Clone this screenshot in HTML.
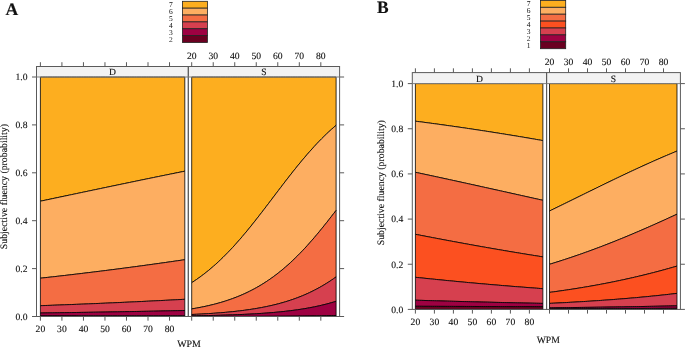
<!DOCTYPE html>
<html><head><meta charset="utf-8"><style>
html,body{margin:0;padding:0;background:#fff;}
svg{display:block; will-change:transform;}
text{font-family:"Liberation Serif", serif; fill:#111; stroke:#111; stroke-width:0.12px; text-rendering:geometricPrecision;}
</style></head><body>
<svg width="685" height="347" viewBox="0 0 685 347">
<rect width="685" height="347" fill="#fff"/>
<rect x="36.5" y="66.5" width="151.8" height="10.5" fill="#F2F2F2" stroke="none"/>
<rect x="188.3" y="66.5" width="151.3" height="10.5" fill="#F2F2F2" stroke="none"/>
<path d="M40.40,77.00 L42.81,77.00 L45.21,77.00 L47.62,77.00 L50.03,77.00 L52.43,77.00 L54.84,77.00 L57.25,77.00 L59.65,77.00 L62.06,77.00 L64.47,77.00 L66.87,77.00 L69.28,77.00 L71.69,77.00 L74.09,77.00 L76.50,77.00 L78.91,77.00 L81.31,77.00 L83.72,77.00 L86.13,77.00 L88.53,77.00 L90.94,77.00 L93.35,77.00 L95.75,77.00 L98.16,77.00 L100.57,77.00 L102.97,77.00 L105.38,77.00 L107.79,77.00 L110.19,77.00 L112.60,77.00 L115.01,77.00 L117.41,77.00 L119.82,77.00 L122.23,77.00 L124.63,77.00 L127.04,77.00 L129.45,77.00 L131.85,77.00 L134.26,77.00 L136.67,77.00 L139.07,77.00 L141.48,77.00 L143.89,77.00 L146.29,77.00 L148.70,77.00 L151.11,77.00 L153.51,77.00 L155.92,77.00 L158.33,77.00 L160.73,77.00 L163.14,77.00 L165.55,77.00 L167.95,77.00 L170.36,77.00 L172.77,77.00 L175.17,77.00 L177.58,77.00 L179.99,77.00 L182.39,77.00 L184.80,77.00 L184.80,171.20 L182.39,171.68 L179.99,172.17 L177.58,172.65 L175.17,173.14 L172.77,173.63 L170.36,174.12 L167.95,174.61 L165.55,175.10 L163.14,175.59 L160.73,176.08 L158.33,176.57 L155.92,177.06 L153.51,177.56 L151.11,178.05 L148.70,178.54 L146.29,179.04 L143.89,179.53 L141.48,180.03 L139.07,180.53 L136.67,181.03 L134.26,181.52 L131.85,182.02 L129.45,182.52 L127.04,183.02 L124.63,183.52 L122.23,184.02 L119.82,184.52 L117.41,185.03 L115.01,185.53 L112.60,186.03 L110.19,186.53 L107.79,187.04 L105.38,187.54 L102.97,188.04 L100.57,188.55 L98.16,189.05 L95.75,189.56 L93.35,190.06 L90.94,190.57 L88.53,191.07 L86.13,191.58 L83.72,192.08 L81.31,192.59 L78.91,193.10 L76.50,193.60 L74.09,194.11 L71.69,194.62 L69.28,195.12 L66.87,195.63 L64.47,196.14 L62.06,196.64 L59.65,197.15 L57.25,197.66 L54.84,198.16 L52.43,198.67 L50.03,199.18 L47.62,199.68 L45.21,200.19 L42.81,200.69 L40.40,201.20Z" fill="#FDAE1F" stroke="#000" stroke-width="0.8"/>
<path d="M40.40,201.20 L42.81,200.69 L45.21,200.19 L47.62,199.68 L50.03,199.18 L52.43,198.67 L54.84,198.16 L57.25,197.66 L59.65,197.15 L62.06,196.64 L64.47,196.14 L66.87,195.63 L69.28,195.12 L71.69,194.62 L74.09,194.11 L76.50,193.60 L78.91,193.10 L81.31,192.59 L83.72,192.08 L86.13,191.58 L88.53,191.07 L90.94,190.57 L93.35,190.06 L95.75,189.56 L98.16,189.05 L100.57,188.55 L102.97,188.04 L105.38,187.54 L107.79,187.04 L110.19,186.53 L112.60,186.03 L115.01,185.53 L117.41,185.03 L119.82,184.52 L122.23,184.02 L124.63,183.52 L127.04,183.02 L129.45,182.52 L131.85,182.02 L134.26,181.52 L136.67,181.03 L139.07,180.53 L141.48,180.03 L143.89,179.53 L146.29,179.04 L148.70,178.54 L151.11,178.05 L153.51,177.56 L155.92,177.06 L158.33,176.57 L160.73,176.08 L163.14,175.59 L165.55,175.10 L167.95,174.61 L170.36,174.12 L172.77,173.63 L175.17,173.14 L177.58,172.65 L179.99,172.17 L182.39,171.68 L184.80,171.20 L184.80,259.70 L182.39,260.05 L179.99,260.41 L177.58,260.76 L175.17,261.10 L172.77,261.45 L170.36,261.80 L167.95,262.14 L165.55,262.49 L163.14,262.83 L160.73,263.17 L158.33,263.50 L155.92,263.84 L153.51,264.18 L151.11,264.51 L148.70,264.84 L146.29,265.17 L143.89,265.50 L141.48,265.83 L139.07,266.15 L136.67,266.48 L134.26,266.80 L131.85,267.12 L129.45,267.44 L127.04,267.76 L124.63,268.08 L122.23,268.39 L119.82,268.71 L117.41,269.02 L115.01,269.33 L112.60,269.64 L110.19,269.94 L107.79,270.25 L105.38,270.55 L102.97,270.86 L100.57,271.16 L98.16,271.46 L95.75,271.76 L93.35,272.05 L90.94,272.35 L88.53,272.64 L86.13,272.93 L83.72,273.23 L81.31,273.51 L78.91,273.80 L76.50,274.09 L74.09,274.37 L71.69,274.66 L69.28,274.94 L66.87,275.22 L64.47,275.50 L62.06,275.77 L59.65,276.05 L57.25,276.32 L54.84,276.60 L52.43,276.87 L50.03,277.14 L47.62,277.40 L45.21,277.67 L42.81,277.94 L40.40,278.20Z" fill="#FDAE61" stroke="#000" stroke-width="0.8"/>
<path d="M40.40,278.20 L42.81,277.94 L45.21,277.67 L47.62,277.40 L50.03,277.14 L52.43,276.87 L54.84,276.60 L57.25,276.32 L59.65,276.05 L62.06,275.77 L64.47,275.50 L66.87,275.22 L69.28,274.94 L71.69,274.66 L74.09,274.37 L76.50,274.09 L78.91,273.80 L81.31,273.51 L83.72,273.23 L86.13,272.93 L88.53,272.64 L90.94,272.35 L93.35,272.05 L95.75,271.76 L98.16,271.46 L100.57,271.16 L102.97,270.86 L105.38,270.55 L107.79,270.25 L110.19,269.94 L112.60,269.64 L115.01,269.33 L117.41,269.02 L119.82,268.71 L122.23,268.39 L124.63,268.08 L127.04,267.76 L129.45,267.44 L131.85,267.12 L134.26,266.80 L136.67,266.48 L139.07,266.15 L141.48,265.83 L143.89,265.50 L146.29,265.17 L148.70,264.84 L151.11,264.51 L153.51,264.18 L155.92,263.84 L158.33,263.50 L160.73,263.17 L163.14,262.83 L165.55,262.49 L167.95,262.14 L170.36,261.80 L172.77,261.45 L175.17,261.10 L177.58,260.76 L179.99,260.41 L182.39,260.05 L184.80,259.70 L184.80,299.30 L182.39,299.43 L179.99,299.56 L177.58,299.69 L175.17,299.82 L172.77,299.95 L170.36,300.07 L167.95,300.20 L165.55,300.32 L163.14,300.45 L160.73,300.57 L158.33,300.69 L155.92,300.81 L153.51,300.93 L151.11,301.05 L148.70,301.17 L146.29,301.29 L143.89,301.40 L141.48,301.52 L139.07,301.64 L136.67,301.75 L134.26,301.86 L131.85,301.98 L129.45,302.09 L127.04,302.20 L124.63,302.31 L122.23,302.42 L119.82,302.53 L117.41,302.63 L115.01,302.74 L112.60,302.85 L110.19,302.95 L107.79,303.06 L105.38,303.16 L102.97,303.27 L100.57,303.37 L98.16,303.47 L95.75,303.57 L93.35,303.67 L90.94,303.77 L88.53,303.87 L86.13,303.97 L83.72,304.07 L81.31,304.16 L78.91,304.26 L76.50,304.35 L74.09,304.45 L71.69,304.54 L69.28,304.63 L66.87,304.73 L64.47,304.82 L62.06,304.91 L59.65,305.00 L57.25,305.09 L54.84,305.18 L52.43,305.27 L50.03,305.36 L47.62,305.44 L45.21,305.53 L42.81,305.61 L40.40,305.70Z" fill="#F46D43" stroke="#000" stroke-width="0.8"/>
<path d="M40.40,305.70 L42.81,305.61 L45.21,305.53 L47.62,305.44 L50.03,305.36 L52.43,305.27 L54.84,305.18 L57.25,305.09 L59.65,305.00 L62.06,304.91 L64.47,304.82 L66.87,304.73 L69.28,304.63 L71.69,304.54 L74.09,304.45 L76.50,304.35 L78.91,304.26 L81.31,304.16 L83.72,304.07 L86.13,303.97 L88.53,303.87 L90.94,303.77 L93.35,303.67 L95.75,303.57 L98.16,303.47 L100.57,303.37 L102.97,303.27 L105.38,303.16 L107.79,303.06 L110.19,302.95 L112.60,302.85 L115.01,302.74 L117.41,302.63 L119.82,302.53 L122.23,302.42 L124.63,302.31 L127.04,302.20 L129.45,302.09 L131.85,301.98 L134.26,301.86 L136.67,301.75 L139.07,301.64 L141.48,301.52 L143.89,301.40 L146.29,301.29 L148.70,301.17 L151.11,301.05 L153.51,300.93 L155.92,300.81 L158.33,300.69 L160.73,300.57 L163.14,300.45 L165.55,300.32 L167.95,300.20 L170.36,300.07 L172.77,299.95 L175.17,299.82 L177.58,299.69 L179.99,299.56 L182.39,299.43 L184.80,299.30 L184.80,310.50 L182.39,310.55 L179.99,310.61 L177.58,310.66 L175.17,310.71 L172.77,310.76 L170.36,310.81 L167.95,310.86 L165.55,310.91 L163.14,310.96 L160.73,311.01 L158.33,311.06 L155.92,311.11 L153.51,311.16 L151.11,311.21 L148.70,311.25 L146.29,311.30 L143.89,311.35 L141.48,311.39 L139.07,311.44 L136.67,311.48 L134.26,311.53 L131.85,311.57 L129.45,311.62 L127.04,311.66 L124.63,311.70 L122.23,311.75 L119.82,311.79 L117.41,311.83 L115.01,311.87 L112.60,311.91 L110.19,311.96 L107.79,312.00 L105.38,312.04 L102.97,312.08 L100.57,312.12 L98.16,312.15 L95.75,312.19 L93.35,312.23 L90.94,312.27 L88.53,312.31 L86.13,312.35 L83.72,312.38 L81.31,312.42 L78.91,312.46 L76.50,312.49 L74.09,312.53 L71.69,312.56 L69.28,312.60 L66.87,312.63 L64.47,312.67 L62.06,312.70 L59.65,312.74 L57.25,312.77 L54.84,312.81 L52.43,312.84 L50.03,312.87 L47.62,312.90 L45.21,312.94 L42.81,312.97 L40.40,313.00Z" fill="#D6404F" stroke="#000" stroke-width="0.8"/>
<path d="M40.40,313.00 L42.81,312.97 L45.21,312.94 L47.62,312.90 L50.03,312.87 L52.43,312.84 L54.84,312.81 L57.25,312.77 L59.65,312.74 L62.06,312.70 L64.47,312.67 L66.87,312.63 L69.28,312.60 L71.69,312.56 L74.09,312.53 L76.50,312.49 L78.91,312.46 L81.31,312.42 L83.72,312.38 L86.13,312.35 L88.53,312.31 L90.94,312.27 L93.35,312.23 L95.75,312.19 L98.16,312.15 L100.57,312.12 L102.97,312.08 L105.38,312.04 L107.79,312.00 L110.19,311.96 L112.60,311.91 L115.01,311.87 L117.41,311.83 L119.82,311.79 L122.23,311.75 L124.63,311.70 L127.04,311.66 L129.45,311.62 L131.85,311.57 L134.26,311.53 L136.67,311.48 L139.07,311.44 L141.48,311.39 L143.89,311.35 L146.29,311.30 L148.70,311.25 L151.11,311.21 L153.51,311.16 L155.92,311.11 L158.33,311.06 L160.73,311.01 L163.14,310.96 L165.55,310.91 L167.95,310.86 L170.36,310.81 L172.77,310.76 L175.17,310.71 L177.58,310.66 L179.99,310.61 L182.39,310.55 L184.80,310.50 L184.80,315.80 L182.39,315.80 L179.99,315.80 L177.58,315.81 L175.17,315.81 L172.77,315.81 L170.36,315.81 L167.95,315.81 L165.55,315.81 L163.14,315.82 L160.73,315.82 L158.33,315.82 L155.92,315.82 L153.51,315.82 L151.11,315.82 L148.70,315.83 L146.29,315.83 L143.89,315.83 L141.48,315.83 L139.07,315.83 L136.67,315.84 L134.26,315.84 L131.85,315.84 L129.45,315.84 L127.04,315.84 L124.63,315.84 L122.23,315.85 L119.82,315.85 L117.41,315.85 L115.01,315.85 L112.60,315.85 L110.19,315.85 L107.79,315.86 L105.38,315.86 L102.97,315.86 L100.57,315.86 L98.16,315.86 L95.75,315.86 L93.35,315.87 L90.94,315.87 L88.53,315.87 L86.13,315.87 L83.72,315.87 L81.31,315.87 L78.91,315.87 L76.50,315.88 L74.09,315.88 L71.69,315.88 L69.28,315.88 L66.87,315.88 L64.47,315.88 L62.06,315.89 L59.65,315.89 L57.25,315.89 L54.84,315.89 L52.43,315.89 L50.03,315.89 L47.62,315.90 L45.21,315.90 L42.81,315.90 L40.40,315.90Z" fill="#9E0142" stroke="#000" stroke-width="0.8"/>
<path d="M40.40,315.90 L42.81,315.90 L45.21,315.90 L47.62,315.90 L50.03,315.89 L52.43,315.89 L54.84,315.89 L57.25,315.89 L59.65,315.89 L62.06,315.89 L64.47,315.88 L66.87,315.88 L69.28,315.88 L71.69,315.88 L74.09,315.88 L76.50,315.88 L78.91,315.87 L81.31,315.87 L83.72,315.87 L86.13,315.87 L88.53,315.87 L90.94,315.87 L93.35,315.87 L95.75,315.86 L98.16,315.86 L100.57,315.86 L102.97,315.86 L105.38,315.86 L107.79,315.86 L110.19,315.85 L112.60,315.85 L115.01,315.85 L117.41,315.85 L119.82,315.85 L122.23,315.85 L124.63,315.84 L127.04,315.84 L129.45,315.84 L131.85,315.84 L134.26,315.84 L136.67,315.84 L139.07,315.83 L141.48,315.83 L143.89,315.83 L146.29,315.83 L148.70,315.83 L151.11,315.82 L153.51,315.82 L155.92,315.82 L158.33,315.82 L160.73,315.82 L163.14,315.82 L165.55,315.81 L167.95,315.81 L170.36,315.81 L172.77,315.81 L175.17,315.81 L177.58,315.81 L179.99,315.80 L182.39,315.80 L184.80,315.80 L184.80,316.50 L182.39,316.50 L179.99,316.50 L177.58,316.50 L175.17,316.50 L172.77,316.50 L170.36,316.50 L167.95,316.50 L165.55,316.50 L163.14,316.50 L160.73,316.50 L158.33,316.50 L155.92,316.50 L153.51,316.50 L151.11,316.50 L148.70,316.50 L146.29,316.50 L143.89,316.50 L141.48,316.50 L139.07,316.50 L136.67,316.50 L134.26,316.50 L131.85,316.50 L129.45,316.50 L127.04,316.50 L124.63,316.50 L122.23,316.50 L119.82,316.50 L117.41,316.50 L115.01,316.50 L112.60,316.50 L110.19,316.50 L107.79,316.50 L105.38,316.50 L102.97,316.50 L100.57,316.50 L98.16,316.50 L95.75,316.50 L93.35,316.50 L90.94,316.50 L88.53,316.50 L86.13,316.50 L83.72,316.50 L81.31,316.50 L78.91,316.50 L76.50,316.50 L74.09,316.50 L71.69,316.50 L69.28,316.50 L66.87,316.50 L64.47,316.50 L62.06,316.50 L59.65,316.50 L57.25,316.50 L54.84,316.50 L52.43,316.50 L50.03,316.50 L47.62,316.50 L45.21,316.50 L42.81,316.50 L40.40,316.50Z" fill="#6A0021" stroke="#000" stroke-width="0.8"/>
<path d="M191.70,77.00 L194.11,77.00 L196.51,77.00 L198.92,77.00 L201.33,77.00 L203.73,77.00 L206.14,77.00 L208.55,77.00 L210.95,77.00 L213.36,77.00 L215.77,77.00 L218.17,77.00 L220.58,77.00 L222.99,77.00 L225.39,77.00 L227.80,77.00 L230.21,77.00 L232.61,77.00 L235.02,77.00 L237.43,77.00 L239.83,77.00 L242.24,77.00 L244.65,77.00 L247.05,77.00 L249.46,77.00 L251.87,77.00 L254.27,77.00 L256.68,77.00 L259.09,77.00 L261.49,77.00 L263.90,77.00 L266.31,77.00 L268.71,77.00 L271.12,77.00 L273.53,77.00 L275.93,77.00 L278.34,77.00 L280.75,77.00 L283.15,77.00 L285.56,77.00 L287.97,77.00 L290.37,77.00 L292.78,77.00 L295.19,77.00 L297.59,77.00 L300.00,77.00 L302.41,77.00 L304.81,77.00 L307.22,77.00 L309.63,77.00 L312.03,77.00 L314.44,77.00 L316.85,77.00 L319.25,77.00 L321.66,77.00 L324.07,77.00 L326.47,77.00 L328.88,77.00 L331.29,77.00 L333.69,77.00 L336.10,77.00 L336.10,125.30 L333.69,127.38 L331.29,129.52 L328.88,131.73 L326.47,134.00 L324.07,136.33 L321.66,138.73 L319.25,141.19 L316.85,143.71 L314.44,146.30 L312.03,148.94 L309.63,151.63 L307.22,154.38 L304.81,157.19 L302.41,160.04 L300.00,162.94 L297.59,165.88 L295.19,168.87 L292.78,171.89 L290.37,174.94 L287.97,178.03 L285.56,181.14 L283.15,184.27 L280.75,187.42 L278.34,190.58 L275.93,193.75 L273.53,196.92 L271.12,200.10 L268.71,203.27 L266.31,206.43 L263.90,209.58 L261.49,212.70 L259.09,215.81 L256.68,218.89 L254.27,221.94 L251.87,224.96 L249.46,227.94 L247.05,230.88 L244.65,233.77 L242.24,236.62 L239.83,239.42 L237.43,242.17 L235.02,244.86 L232.61,247.49 L230.21,250.07 L227.80,252.58 L225.39,255.04 L222.99,257.43 L220.58,259.76 L218.17,262.02 L215.77,264.22 L213.36,266.35 L210.95,268.42 L208.55,270.43 L206.14,272.37 L203.73,274.25 L201.33,276.06 L198.92,277.81 L196.51,279.50 L194.11,281.13 L191.70,282.70Z" fill="#FDAE1F" stroke="#000" stroke-width="0.8"/>
<path d="M191.70,282.70 L194.11,281.13 L196.51,279.50 L198.92,277.81 L201.33,276.06 L203.73,274.25 L206.14,272.37 L208.55,270.43 L210.95,268.42 L213.36,266.35 L215.77,264.22 L218.17,262.02 L220.58,259.76 L222.99,257.43 L225.39,255.04 L227.80,252.58 L230.21,250.07 L232.61,247.49 L235.02,244.86 L237.43,242.17 L239.83,239.42 L242.24,236.62 L244.65,233.77 L247.05,230.88 L249.46,227.94 L251.87,224.96 L254.27,221.94 L256.68,218.89 L259.09,215.81 L261.49,212.70 L263.90,209.58 L266.31,206.43 L268.71,203.27 L271.12,200.10 L273.53,196.92 L275.93,193.75 L278.34,190.58 L280.75,187.42 L283.15,184.27 L285.56,181.14 L287.97,178.03 L290.37,174.94 L292.78,171.89 L295.19,168.87 L297.59,165.88 L300.00,162.94 L302.41,160.04 L304.81,157.19 L307.22,154.38 L309.63,151.63 L312.03,148.94 L314.44,146.30 L316.85,143.71 L319.25,141.19 L321.66,138.73 L324.07,136.33 L326.47,134.00 L328.88,131.73 L331.29,129.52 L333.69,127.38 L336.10,125.30 L336.10,210.40 L333.69,213.53 L331.29,216.64 L328.88,219.72 L326.47,222.77 L324.07,225.78 L321.66,228.76 L319.25,231.69 L316.85,234.58 L314.44,237.42 L312.03,240.21 L309.63,242.95 L307.22,245.63 L304.81,248.25 L302.41,250.81 L300.00,253.32 L297.59,255.76 L295.19,258.14 L292.78,260.45 L290.37,262.70 L287.97,264.89 L285.56,267.01 L283.15,269.06 L280.75,271.05 L278.34,272.97 L275.93,274.84 L273.53,276.63 L271.12,278.37 L268.71,280.04 L266.31,281.65 L263.90,283.21 L261.49,284.70 L259.09,286.14 L256.68,287.52 L254.27,288.85 L251.87,290.12 L249.46,291.34 L247.05,292.52 L244.65,293.64 L242.24,294.71 L239.83,295.74 L237.43,296.73 L235.02,297.67 L232.61,298.57 L230.21,299.44 L227.80,300.26 L225.39,301.05 L222.99,301.80 L220.58,302.51 L218.17,303.20 L215.77,303.85 L213.36,304.47 L210.95,305.06 L208.55,305.63 L206.14,306.17 L203.73,306.68 L201.33,307.17 L198.92,307.63 L196.51,308.08 L194.11,308.50 L191.70,308.90Z" fill="#FDAE61" stroke="#000" stroke-width="0.8"/>
<path d="M191.70,308.90 L194.11,308.50 L196.51,308.08 L198.92,307.63 L201.33,307.17 L203.73,306.68 L206.14,306.17 L208.55,305.63 L210.95,305.06 L213.36,304.47 L215.77,303.85 L218.17,303.20 L220.58,302.51 L222.99,301.80 L225.39,301.05 L227.80,300.26 L230.21,299.44 L232.61,298.57 L235.02,297.67 L237.43,296.73 L239.83,295.74 L242.24,294.71 L244.65,293.64 L247.05,292.52 L249.46,291.34 L251.87,290.12 L254.27,288.85 L256.68,287.52 L259.09,286.14 L261.49,284.70 L263.90,283.21 L266.31,281.65 L268.71,280.04 L271.12,278.37 L273.53,276.63 L275.93,274.84 L278.34,272.97 L280.75,271.05 L283.15,269.06 L285.56,267.01 L287.97,264.89 L290.37,262.70 L292.78,260.45 L295.19,258.14 L297.59,255.76 L300.00,253.32 L302.41,250.81 L304.81,248.25 L307.22,245.63 L309.63,242.95 L312.03,240.21 L314.44,237.42 L316.85,234.58 L319.25,231.69 L321.66,228.76 L324.07,225.78 L326.47,222.77 L328.88,219.72 L331.29,216.64 L333.69,213.53 L336.10,210.40 L336.10,276.90 L333.69,278.61 L331.29,280.26 L328.88,281.85 L326.47,283.38 L324.07,284.85 L321.66,286.27 L319.25,287.63 L316.85,288.94 L314.44,290.20 L312.03,291.41 L309.63,292.57 L307.22,293.68 L304.81,294.74 L302.41,295.76 L300.00,296.73 L297.59,297.67 L295.19,298.56 L292.78,299.42 L290.37,300.23 L287.97,301.01 L285.56,301.76 L283.15,302.47 L280.75,303.15 L278.34,303.80 L275.93,304.42 L273.53,305.01 L271.12,305.57 L268.71,306.10 L266.31,306.61 L263.90,307.10 L261.49,307.57 L259.09,308.01 L256.68,308.43 L254.27,308.83 L251.87,309.21 L249.46,309.57 L247.05,309.92 L244.65,310.25 L242.24,310.56 L239.83,310.86 L237.43,311.14 L235.02,311.41 L232.61,311.66 L230.21,311.91 L227.80,312.14 L225.39,312.36 L222.99,312.57 L220.58,312.77 L218.17,312.95 L215.77,313.13 L213.36,313.30 L210.95,313.47 L208.55,313.62 L206.14,313.77 L203.73,313.90 L201.33,314.04 L198.92,314.16 L196.51,314.28 L194.11,314.39 L191.70,314.50Z" fill="#F46D43" stroke="#000" stroke-width="0.8"/>
<path d="M191.70,314.50 L194.11,314.39 L196.51,314.28 L198.92,314.16 L201.33,314.04 L203.73,313.90 L206.14,313.77 L208.55,313.62 L210.95,313.47 L213.36,313.30 L215.77,313.13 L218.17,312.95 L220.58,312.77 L222.99,312.57 L225.39,312.36 L227.80,312.14 L230.21,311.91 L232.61,311.66 L235.02,311.41 L237.43,311.14 L239.83,310.86 L242.24,310.56 L244.65,310.25 L247.05,309.92 L249.46,309.57 L251.87,309.21 L254.27,308.83 L256.68,308.43 L259.09,308.01 L261.49,307.57 L263.90,307.10 L266.31,306.61 L268.71,306.10 L271.12,305.57 L273.53,305.01 L275.93,304.42 L278.34,303.80 L280.75,303.15 L283.15,302.47 L285.56,301.76 L287.97,301.01 L290.37,300.23 L292.78,299.42 L295.19,298.56 L297.59,297.67 L300.00,296.73 L302.41,295.76 L304.81,294.74 L307.22,293.68 L309.63,292.57 L312.03,291.41 L314.44,290.20 L316.85,288.94 L319.25,287.63 L321.66,286.27 L324.07,284.85 L326.47,283.38 L328.88,281.85 L331.29,280.26 L333.69,278.61 L336.10,276.90 L336.10,301.30 L333.69,302.04 L331.29,302.74 L328.88,303.42 L326.47,304.06 L324.07,304.67 L321.66,305.25 L319.25,305.81 L316.85,306.34 L314.44,306.84 L312.03,307.32 L309.63,307.78 L307.22,308.21 L304.81,308.63 L302.41,309.02 L300.00,309.40 L297.59,309.75 L295.19,310.09 L292.78,310.42 L290.37,310.72 L287.97,311.01 L285.56,311.29 L283.15,311.56 L280.75,311.81 L278.34,312.04 L275.93,312.27 L273.53,312.49 L271.12,312.69 L268.71,312.88 L266.31,313.07 L263.90,313.24 L261.49,313.41 L259.09,313.57 L256.68,313.72 L254.27,313.86 L251.87,313.99 L249.46,314.12 L247.05,314.24 L244.65,314.36 L242.24,314.47 L239.83,314.57 L237.43,314.67 L235.02,314.77 L232.61,314.86 L230.21,314.94 L227.80,315.02 L225.39,315.10 L222.99,315.17 L220.58,315.24 L218.17,315.30 L215.77,315.36 L213.36,315.42 L210.95,315.48 L208.55,315.53 L206.14,315.58 L203.73,315.63 L201.33,315.67 L198.92,315.71 L196.51,315.76 L194.11,315.79 L191.70,315.83Z" fill="#D6404F" stroke="#000" stroke-width="0.8"/>
<path d="M191.70,315.83 L194.11,315.79 L196.51,315.76 L198.92,315.71 L201.33,315.67 L203.73,315.63 L206.14,315.58 L208.55,315.53 L210.95,315.48 L213.36,315.42 L215.77,315.36 L218.17,315.30 L220.58,315.24 L222.99,315.17 L225.39,315.10 L227.80,315.02 L230.21,314.94 L232.61,314.86 L235.02,314.77 L237.43,314.67 L239.83,314.57 L242.24,314.47 L244.65,314.36 L247.05,314.24 L249.46,314.12 L251.87,313.99 L254.27,313.86 L256.68,313.72 L259.09,313.57 L261.49,313.41 L263.90,313.24 L266.31,313.07 L268.71,312.88 L271.12,312.69 L273.53,312.49 L275.93,312.27 L278.34,312.04 L280.75,311.81 L283.15,311.56 L285.56,311.29 L287.97,311.01 L290.37,310.72 L292.78,310.42 L295.19,310.09 L297.59,309.75 L300.00,309.40 L302.41,309.02 L304.81,308.63 L307.22,308.21 L309.63,307.78 L312.03,307.32 L314.44,306.84 L316.85,306.34 L319.25,305.81 L321.66,305.25 L324.07,304.67 L326.47,304.06 L328.88,303.42 L331.29,302.74 L333.69,302.04 L336.10,301.30 L336.10,315.50 L333.69,315.55 L331.29,315.60 L328.88,315.65 L326.47,315.69 L324.07,315.73 L321.66,315.77 L319.25,315.81 L316.85,315.85 L314.44,315.88 L312.03,315.91 L309.63,315.95 L307.22,315.97 L304.81,316.00 L302.41,316.03 L300.00,316.05 L297.59,316.08 L295.19,316.10 L292.78,316.12 L290.37,316.14 L287.97,316.16 L285.56,316.18 L283.15,316.19 L280.75,316.21 L278.34,316.22 L275.93,316.24 L273.53,316.25 L271.12,316.26 L268.71,316.28 L266.31,316.29 L263.90,316.30 L261.49,316.31 L259.09,316.32 L256.68,316.33 L254.27,316.34 L251.87,316.35 L249.46,316.35 L247.05,316.36 L244.65,316.37 L242.24,316.38 L239.83,316.38 L237.43,316.39 L235.02,316.39 L232.61,316.40 L230.21,316.41 L227.80,316.41 L225.39,316.42 L222.99,316.42 L220.58,316.42 L218.17,316.43 L215.77,316.43 L213.36,316.44 L210.95,316.44 L208.55,316.44 L206.14,316.44 L203.73,316.45 L201.33,316.45 L198.92,316.45 L196.51,316.46 L194.11,316.46 L191.70,316.46Z" fill="#9E0142" stroke="#000" stroke-width="0.8"/>
<path d="M191.70,316.46 L194.11,316.46 L196.51,316.46 L198.92,316.45 L201.33,316.45 L203.73,316.45 L206.14,316.44 L208.55,316.44 L210.95,316.44 L213.36,316.44 L215.77,316.43 L218.17,316.43 L220.58,316.42 L222.99,316.42 L225.39,316.42 L227.80,316.41 L230.21,316.41 L232.61,316.40 L235.02,316.39 L237.43,316.39 L239.83,316.38 L242.24,316.38 L244.65,316.37 L247.05,316.36 L249.46,316.35 L251.87,316.35 L254.27,316.34 L256.68,316.33 L259.09,316.32 L261.49,316.31 L263.90,316.30 L266.31,316.29 L268.71,316.28 L271.12,316.26 L273.53,316.25 L275.93,316.24 L278.34,316.22 L280.75,316.21 L283.15,316.19 L285.56,316.18 L287.97,316.16 L290.37,316.14 L292.78,316.12 L295.19,316.10 L297.59,316.08 L300.00,316.05 L302.41,316.03 L304.81,316.00 L307.22,315.97 L309.63,315.95 L312.03,315.91 L314.44,315.88 L316.85,315.85 L319.25,315.81 L321.66,315.77 L324.07,315.73 L326.47,315.69 L328.88,315.65 L331.29,315.60 L333.69,315.55 L336.10,315.50 L336.10,316.50 L333.69,316.50 L331.29,316.50 L328.88,316.50 L326.47,316.50 L324.07,316.50 L321.66,316.50 L319.25,316.50 L316.85,316.50 L314.44,316.50 L312.03,316.50 L309.63,316.50 L307.22,316.50 L304.81,316.50 L302.41,316.50 L300.00,316.50 L297.59,316.50 L295.19,316.50 L292.78,316.50 L290.37,316.50 L287.97,316.50 L285.56,316.50 L283.15,316.50 L280.75,316.50 L278.34,316.50 L275.93,316.50 L273.53,316.50 L271.12,316.50 L268.71,316.50 L266.31,316.50 L263.90,316.50 L261.49,316.50 L259.09,316.50 L256.68,316.50 L254.27,316.50 L251.87,316.50 L249.46,316.50 L247.05,316.50 L244.65,316.50 L242.24,316.50 L239.83,316.50 L237.43,316.50 L235.02,316.50 L232.61,316.50 L230.21,316.50 L227.80,316.50 L225.39,316.50 L222.99,316.50 L220.58,316.50 L218.17,316.50 L215.77,316.50 L213.36,316.50 L210.95,316.50 L208.55,316.50 L206.14,316.50 L203.73,316.50 L201.33,316.50 L198.92,316.50 L196.51,316.50 L194.11,316.50 L191.70,316.50Z" fill="#6A0021" stroke="#000" stroke-width="0.8"/>
<rect x="36.5" y="66.5" width="151.8" height="250.0" fill="none" stroke="#5a5a5a" stroke-width="1"/>
<line x1="36.5" y1="77.0" x2="188.3" y2="77.0" stroke="#808080" stroke-width="1"/>
<rect x="188.3" y="66.5" width="151.3" height="250.0" fill="none" stroke="#5a5a5a" stroke-width="1"/>
<line x1="188.3" y1="77.0" x2="339.6" y2="77.0" stroke="#808080" stroke-width="1"/>
<line x1="32.0" y1="316.50" x2="36.5" y2="316.50" stroke="#5a5a5a" stroke-width="1"/>
<line x1="339.6" y1="316.50" x2="344.1" y2="316.50" stroke="#5a5a5a" stroke-width="1"/>
<line x1="32.0" y1="268.60" x2="36.5" y2="268.60" stroke="#5a5a5a" stroke-width="1"/>
<line x1="339.6" y1="268.60" x2="344.1" y2="268.60" stroke="#5a5a5a" stroke-width="1"/>
<line x1="32.0" y1="220.70" x2="36.5" y2="220.70" stroke="#5a5a5a" stroke-width="1"/>
<line x1="339.6" y1="220.70" x2="344.1" y2="220.70" stroke="#5a5a5a" stroke-width="1"/>
<line x1="32.0" y1="172.80" x2="36.5" y2="172.80" stroke="#5a5a5a" stroke-width="1"/>
<line x1="339.6" y1="172.80" x2="344.1" y2="172.80" stroke="#5a5a5a" stroke-width="1"/>
<line x1="32.0" y1="124.90" x2="36.5" y2="124.90" stroke="#5a5a5a" stroke-width="1"/>
<line x1="339.6" y1="124.90" x2="344.1" y2="124.90" stroke="#5a5a5a" stroke-width="1"/>
<line x1="32.0" y1="77.00" x2="36.5" y2="77.00" stroke="#5a5a5a" stroke-width="1"/>
<line x1="339.6" y1="77.00" x2="344.1" y2="77.00" stroke="#5a5a5a" stroke-width="1"/>
<line x1="40.40" y1="62.2" x2="40.40" y2="66.5" stroke="#5a5a5a" stroke-width="1"/>
<line x1="40.40" y1="316.5" x2="40.40" y2="320.7" stroke="#5a5a5a" stroke-width="1"/>
<line x1="61.92" y1="62.2" x2="61.92" y2="66.5" stroke="#5a5a5a" stroke-width="1"/>
<line x1="61.92" y1="316.5" x2="61.92" y2="320.7" stroke="#5a5a5a" stroke-width="1"/>
<line x1="83.44" y1="62.2" x2="83.44" y2="66.5" stroke="#5a5a5a" stroke-width="1"/>
<line x1="83.44" y1="316.5" x2="83.44" y2="320.7" stroke="#5a5a5a" stroke-width="1"/>
<line x1="104.96" y1="62.2" x2="104.96" y2="66.5" stroke="#5a5a5a" stroke-width="1"/>
<line x1="104.96" y1="316.5" x2="104.96" y2="320.7" stroke="#5a5a5a" stroke-width="1"/>
<line x1="126.48" y1="62.2" x2="126.48" y2="66.5" stroke="#5a5a5a" stroke-width="1"/>
<line x1="126.48" y1="316.5" x2="126.48" y2="320.7" stroke="#5a5a5a" stroke-width="1"/>
<line x1="148.00" y1="62.2" x2="148.00" y2="66.5" stroke="#5a5a5a" stroke-width="1"/>
<line x1="148.00" y1="316.5" x2="148.00" y2="320.7" stroke="#5a5a5a" stroke-width="1"/>
<line x1="169.52" y1="62.2" x2="169.52" y2="66.5" stroke="#5a5a5a" stroke-width="1"/>
<line x1="169.52" y1="316.5" x2="169.52" y2="320.7" stroke="#5a5a5a" stroke-width="1"/>
<line x1="191.70" y1="62.2" x2="191.70" y2="66.5" stroke="#5a5a5a" stroke-width="1"/>
<line x1="191.70" y1="316.5" x2="191.70" y2="320.7" stroke="#5a5a5a" stroke-width="1"/>
<line x1="213.22" y1="62.2" x2="213.22" y2="66.5" stroke="#5a5a5a" stroke-width="1"/>
<line x1="213.22" y1="316.5" x2="213.22" y2="320.7" stroke="#5a5a5a" stroke-width="1"/>
<line x1="234.74" y1="62.2" x2="234.74" y2="66.5" stroke="#5a5a5a" stroke-width="1"/>
<line x1="234.74" y1="316.5" x2="234.74" y2="320.7" stroke="#5a5a5a" stroke-width="1"/>
<line x1="256.26" y1="62.2" x2="256.26" y2="66.5" stroke="#5a5a5a" stroke-width="1"/>
<line x1="256.26" y1="316.5" x2="256.26" y2="320.7" stroke="#5a5a5a" stroke-width="1"/>
<line x1="277.78" y1="62.2" x2="277.78" y2="66.5" stroke="#5a5a5a" stroke-width="1"/>
<line x1="277.78" y1="316.5" x2="277.78" y2="320.7" stroke="#5a5a5a" stroke-width="1"/>
<line x1="299.30" y1="62.2" x2="299.30" y2="66.5" stroke="#5a5a5a" stroke-width="1"/>
<line x1="299.30" y1="316.5" x2="299.30" y2="320.7" stroke="#5a5a5a" stroke-width="1"/>
<line x1="320.82" y1="62.2" x2="320.82" y2="66.5" stroke="#5a5a5a" stroke-width="1"/>
<line x1="320.82" y1="316.5" x2="320.82" y2="320.7" stroke="#5a5a5a" stroke-width="1"/>
<rect x="412.3" y="72.6" width="134.3" height="11.0" fill="#F2F2F2" stroke="none"/>
<rect x="546.6" y="72.6" width="133.79999999999995" height="11.0" fill="#F2F2F2" stroke="none"/>
<path d="M415.40,83.60 L417.52,83.60 L419.65,83.60 L421.77,83.60 L423.90,83.60 L426.02,83.60 L428.15,83.60 L430.27,83.60 L432.40,83.60 L434.52,83.60 L436.65,83.60 L438.77,83.60 L440.90,83.60 L443.02,83.60 L445.15,83.60 L447.27,83.60 L449.40,83.60 L451.52,83.60 L453.65,83.60 L455.77,83.60 L457.90,83.60 L460.02,83.60 L462.15,83.60 L464.27,83.60 L466.40,83.60 L468.52,83.60 L470.65,83.60 L472.77,83.60 L474.90,83.60 L477.02,83.60 L479.14,83.60 L481.27,83.60 L483.39,83.60 L485.52,83.60 L487.64,83.60 L489.77,83.60 L491.89,83.60 L494.02,83.60 L496.14,83.60 L498.27,83.60 L500.39,83.60 L502.52,83.60 L504.64,83.60 L506.77,83.60 L508.89,83.60 L511.02,83.60 L513.14,83.60 L515.27,83.60 L517.39,83.60 L519.52,83.60 L521.64,83.60 L523.77,83.60 L525.89,83.60 L528.02,83.60 L530.14,83.60 L532.27,83.60 L534.39,83.60 L536.52,83.60 L538.64,83.60 L540.77,83.60 L542.89,83.60 L542.89,140.60 L540.77,140.23 L538.64,139.86 L536.52,139.49 L534.39,139.12 L532.27,138.76 L530.14,138.39 L528.02,138.03 L525.89,137.67 L523.77,137.31 L521.64,136.95 L519.52,136.60 L517.39,136.24 L515.27,135.89 L513.14,135.54 L511.02,135.19 L508.89,134.85 L506.77,134.50 L504.64,134.16 L502.52,133.81 L500.39,133.47 L498.27,133.13 L496.14,132.80 L494.02,132.46 L491.89,132.13 L489.77,131.79 L487.64,131.46 L485.52,131.13 L483.39,130.81 L481.27,130.48 L479.14,130.16 L477.02,129.83 L474.90,129.51 L472.77,129.19 L470.65,128.88 L468.52,128.56 L466.40,128.25 L464.27,127.93 L462.15,127.62 L460.02,127.31 L457.90,127.01 L455.77,126.70 L453.65,126.40 L451.52,126.09 L449.40,125.79 L447.27,125.49 L445.15,125.20 L443.02,124.90 L440.90,124.61 L438.77,124.31 L436.65,124.02 L434.52,123.73 L432.40,123.44 L430.27,123.16 L428.15,122.87 L426.02,122.59 L423.90,122.31 L421.77,122.03 L419.65,121.75 L417.52,121.47 L415.40,121.20Z" fill="#FDAE1F" stroke="#000" stroke-width="0.8"/>
<path d="M415.40,121.20 L417.52,121.47 L419.65,121.75 L421.77,122.03 L423.90,122.31 L426.02,122.59 L428.15,122.87 L430.27,123.16 L432.40,123.44 L434.52,123.73 L436.65,124.02 L438.77,124.31 L440.90,124.61 L443.02,124.90 L445.15,125.20 L447.27,125.49 L449.40,125.79 L451.52,126.09 L453.65,126.40 L455.77,126.70 L457.90,127.01 L460.02,127.31 L462.15,127.62 L464.27,127.93 L466.40,128.25 L468.52,128.56 L470.65,128.88 L472.77,129.19 L474.90,129.51 L477.02,129.83 L479.14,130.16 L481.27,130.48 L483.39,130.81 L485.52,131.13 L487.64,131.46 L489.77,131.79 L491.89,132.13 L494.02,132.46 L496.14,132.80 L498.27,133.13 L500.39,133.47 L502.52,133.81 L504.64,134.16 L506.77,134.50 L508.89,134.85 L511.02,135.19 L513.14,135.54 L515.27,135.89 L517.39,136.24 L519.52,136.60 L521.64,136.95 L523.77,137.31 L525.89,137.67 L528.02,138.03 L530.14,138.39 L532.27,138.76 L534.39,139.12 L536.52,139.49 L538.64,139.86 L540.77,140.23 L542.89,140.60 L542.89,200.30 L540.77,199.83 L538.64,199.35 L536.52,198.88 L534.39,198.41 L532.27,197.94 L530.14,197.46 L528.02,196.99 L525.89,196.52 L523.77,196.04 L521.64,195.57 L519.52,195.10 L517.39,194.63 L515.27,194.15 L513.14,193.68 L511.02,193.21 L508.89,192.73 L506.77,192.26 L504.64,191.79 L502.52,191.32 L500.39,190.85 L498.27,190.37 L496.14,189.90 L494.02,189.43 L491.89,188.96 L489.77,188.49 L487.64,188.02 L485.52,187.55 L483.39,187.08 L481.27,186.61 L479.14,186.14 L477.02,185.67 L474.90,185.20 L472.77,184.73 L470.65,184.27 L468.52,183.80 L466.40,183.33 L464.27,182.87 L462.15,182.40 L460.02,181.93 L457.90,181.47 L455.77,181.01 L453.65,180.54 L451.52,180.08 L449.40,179.62 L447.27,179.15 L445.15,178.69 L443.02,178.23 L440.90,177.77 L438.77,177.31 L436.65,176.85 L434.52,176.39 L432.40,175.94 L430.27,175.48 L428.15,175.02 L426.02,174.57 L423.90,174.11 L421.77,173.66 L419.65,173.20 L417.52,172.75 L415.40,172.30Z" fill="#FDAE61" stroke="#000" stroke-width="0.8"/>
<path d="M415.40,172.30 L417.52,172.75 L419.65,173.20 L421.77,173.66 L423.90,174.11 L426.02,174.57 L428.15,175.02 L430.27,175.48 L432.40,175.94 L434.52,176.39 L436.65,176.85 L438.77,177.31 L440.90,177.77 L443.02,178.23 L445.15,178.69 L447.27,179.15 L449.40,179.62 L451.52,180.08 L453.65,180.54 L455.77,181.01 L457.90,181.47 L460.02,181.93 L462.15,182.40 L464.27,182.87 L466.40,183.33 L468.52,183.80 L470.65,184.27 L472.77,184.73 L474.90,185.20 L477.02,185.67 L479.14,186.14 L481.27,186.61 L483.39,187.08 L485.52,187.55 L487.64,188.02 L489.77,188.49 L491.89,188.96 L494.02,189.43 L496.14,189.90 L498.27,190.37 L500.39,190.85 L502.52,191.32 L504.64,191.79 L506.77,192.26 L508.89,192.73 L511.02,193.21 L513.14,193.68 L515.27,194.15 L517.39,194.63 L519.52,195.10 L521.64,195.57 L523.77,196.04 L525.89,196.52 L528.02,196.99 L530.14,197.46 L532.27,197.94 L534.39,198.41 L536.52,198.88 L538.64,199.35 L540.77,199.83 L542.89,200.30 L542.89,256.90 L540.77,256.56 L538.64,256.23 L536.52,255.89 L534.39,255.55 L532.27,255.21 L530.14,254.87 L528.02,254.52 L525.89,254.18 L523.77,253.83 L521.64,253.48 L519.52,253.13 L517.39,252.78 L515.27,252.43 L513.14,252.08 L511.02,251.72 L508.89,251.36 L506.77,251.00 L504.64,250.65 L502.52,250.28 L500.39,249.92 L498.27,249.56 L496.14,249.19 L494.02,248.82 L491.89,248.46 L489.77,248.09 L487.64,247.71 L485.52,247.34 L483.39,246.97 L481.27,246.59 L479.14,246.22 L477.02,245.84 L474.90,245.46 L472.77,245.08 L470.65,244.70 L468.52,244.31 L466.40,243.93 L464.27,243.54 L462.15,243.15 L460.02,242.76 L457.90,242.37 L455.77,241.98 L453.65,241.59 L451.52,241.19 L449.40,240.80 L447.27,240.40 L445.15,240.00 L443.02,239.60 L440.90,239.20 L438.77,238.80 L436.65,238.40 L434.52,237.99 L432.40,237.59 L430.27,237.18 L428.15,236.77 L426.02,236.36 L423.90,235.95 L421.77,235.54 L419.65,235.13 L417.52,234.72 L415.40,234.30Z" fill="#F46D43" stroke="#000" stroke-width="0.8"/>
<path d="M415.40,234.30 L417.52,234.72 L419.65,235.13 L421.77,235.54 L423.90,235.95 L426.02,236.36 L428.15,236.77 L430.27,237.18 L432.40,237.59 L434.52,237.99 L436.65,238.40 L438.77,238.80 L440.90,239.20 L443.02,239.60 L445.15,240.00 L447.27,240.40 L449.40,240.80 L451.52,241.19 L453.65,241.59 L455.77,241.98 L457.90,242.37 L460.02,242.76 L462.15,243.15 L464.27,243.54 L466.40,243.93 L468.52,244.31 L470.65,244.70 L472.77,245.08 L474.90,245.46 L477.02,245.84 L479.14,246.22 L481.27,246.59 L483.39,246.97 L485.52,247.34 L487.64,247.71 L489.77,248.09 L491.89,248.46 L494.02,248.82 L496.14,249.19 L498.27,249.56 L500.39,249.92 L502.52,250.28 L504.64,250.65 L506.77,251.00 L508.89,251.36 L511.02,251.72 L513.14,252.08 L515.27,252.43 L517.39,252.78 L519.52,253.13 L521.64,253.48 L523.77,253.83 L525.89,254.18 L528.02,254.52 L530.14,254.87 L532.27,255.21 L534.39,255.55 L536.52,255.89 L538.64,256.23 L540.77,256.56 L542.89,256.90 L542.89,288.70 L540.77,288.54 L538.64,288.39 L536.52,288.23 L534.39,288.07 L532.27,287.91 L530.14,287.75 L528.02,287.59 L525.89,287.42 L523.77,287.26 L521.64,287.09 L519.52,286.93 L517.39,286.76 L515.27,286.59 L513.14,286.42 L511.02,286.25 L508.89,286.08 L506.77,285.90 L504.64,285.73 L502.52,285.55 L500.39,285.38 L498.27,285.20 L496.14,285.02 L494.02,284.84 L491.89,284.66 L489.77,284.47 L487.64,284.29 L485.52,284.10 L483.39,283.92 L481.27,283.73 L479.14,283.54 L477.02,283.35 L474.90,283.16 L472.77,282.97 L470.65,282.78 L468.52,282.58 L466.40,282.38 L464.27,282.19 L462.15,281.99 L460.02,281.79 L457.90,281.59 L455.77,281.39 L453.65,281.18 L451.52,280.98 L449.40,280.77 L447.27,280.56 L445.15,280.36 L443.02,280.15 L440.90,279.94 L438.77,279.72 L436.65,279.51 L434.52,279.29 L432.40,279.08 L430.27,278.86 L428.15,278.64 L426.02,278.42 L423.90,278.20 L421.77,277.98 L419.65,277.75 L417.52,277.53 L415.40,277.30Z" fill="#FC5020" stroke="#000" stroke-width="0.8"/>
<path d="M415.40,277.30 L417.52,277.53 L419.65,277.75 L421.77,277.98 L423.90,278.20 L426.02,278.42 L428.15,278.64 L430.27,278.86 L432.40,279.08 L434.52,279.29 L436.65,279.51 L438.77,279.72 L440.90,279.94 L443.02,280.15 L445.15,280.36 L447.27,280.56 L449.40,280.77 L451.52,280.98 L453.65,281.18 L455.77,281.39 L457.90,281.59 L460.02,281.79 L462.15,281.99 L464.27,282.19 L466.40,282.38 L468.52,282.58 L470.65,282.78 L472.77,282.97 L474.90,283.16 L477.02,283.35 L479.14,283.54 L481.27,283.73 L483.39,283.92 L485.52,284.10 L487.64,284.29 L489.77,284.47 L491.89,284.66 L494.02,284.84 L496.14,285.02 L498.27,285.20 L500.39,285.38 L502.52,285.55 L504.64,285.73 L506.77,285.90 L508.89,286.08 L511.02,286.25 L513.14,286.42 L515.27,286.59 L517.39,286.76 L519.52,286.93 L521.64,287.09 L523.77,287.26 L525.89,287.42 L528.02,287.59 L530.14,287.75 L532.27,287.91 L534.39,288.07 L536.52,288.23 L538.64,288.39 L540.77,288.54 L542.89,288.70 L542.89,303.40 L540.77,303.36 L538.64,303.31 L536.52,303.27 L534.39,303.23 L532.27,303.18 L530.14,303.14 L528.02,303.09 L525.89,303.05 L523.77,303.00 L521.64,302.95 L519.52,302.91 L517.39,302.86 L515.27,302.81 L513.14,302.77 L511.02,302.72 L508.89,302.67 L506.77,302.62 L504.64,302.57 L502.52,302.53 L500.39,302.48 L498.27,302.43 L496.14,302.38 L494.02,302.33 L491.89,302.28 L489.77,302.22 L487.64,302.17 L485.52,302.12 L483.39,302.07 L481.27,302.02 L479.14,301.96 L477.02,301.91 L474.90,301.86 L472.77,301.80 L470.65,301.75 L468.52,301.69 L466.40,301.64 L464.27,301.58 L462.15,301.53 L460.02,301.47 L457.90,301.42 L455.77,301.36 L453.65,301.30 L451.52,301.24 L449.40,301.19 L447.27,301.13 L445.15,301.07 L443.02,301.01 L440.90,300.95 L438.77,300.89 L436.65,300.83 L434.52,300.77 L432.40,300.71 L430.27,300.64 L428.15,300.58 L426.02,300.52 L423.90,300.46 L421.77,300.39 L419.65,300.33 L417.52,300.26 L415.40,300.20Z" fill="#D6404F" stroke="#000" stroke-width="0.8"/>
<path d="M415.40,300.20 L417.52,300.26 L419.65,300.33 L421.77,300.39 L423.90,300.46 L426.02,300.52 L428.15,300.58 L430.27,300.64 L432.40,300.71 L434.52,300.77 L436.65,300.83 L438.77,300.89 L440.90,300.95 L443.02,301.01 L445.15,301.07 L447.27,301.13 L449.40,301.19 L451.52,301.24 L453.65,301.30 L455.77,301.36 L457.90,301.42 L460.02,301.47 L462.15,301.53 L464.27,301.58 L466.40,301.64 L468.52,301.69 L470.65,301.75 L472.77,301.80 L474.90,301.86 L477.02,301.91 L479.14,301.96 L481.27,302.02 L483.39,302.07 L485.52,302.12 L487.64,302.17 L489.77,302.22 L491.89,302.28 L494.02,302.33 L496.14,302.38 L498.27,302.43 L500.39,302.48 L502.52,302.53 L504.64,302.57 L506.77,302.62 L508.89,302.67 L511.02,302.72 L513.14,302.77 L515.27,302.81 L517.39,302.86 L519.52,302.91 L521.64,302.95 L523.77,303.00 L525.89,303.05 L528.02,303.09 L530.14,303.14 L532.27,303.18 L534.39,303.23 L536.52,303.27 L538.64,303.31 L540.77,303.36 L542.89,303.40 L542.89,306.70 L540.77,306.69 L538.64,306.69 L536.52,306.68 L534.39,306.67 L532.27,306.67 L530.14,306.66 L528.02,306.66 L525.89,306.65 L523.77,306.64 L521.64,306.64 L519.52,306.63 L517.39,306.62 L515.27,306.62 L513.14,306.61 L511.02,306.61 L508.89,306.60 L506.77,306.59 L504.64,306.59 L502.52,306.58 L500.39,306.57 L498.27,306.57 L496.14,306.56 L494.02,306.55 L491.89,306.55 L489.77,306.54 L487.64,306.53 L485.52,306.53 L483.39,306.52 L481.27,306.51 L479.14,306.51 L477.02,306.50 L474.90,306.49 L472.77,306.49 L470.65,306.48 L468.52,306.47 L466.40,306.47 L464.27,306.46 L462.15,306.45 L460.02,306.45 L457.90,306.44 L455.77,306.43 L453.65,306.43 L451.52,306.42 L449.40,306.41 L447.27,306.41 L445.15,306.40 L443.02,306.39 L440.90,306.38 L438.77,306.38 L436.65,306.37 L434.52,306.36 L432.40,306.36 L430.27,306.35 L428.15,306.34 L426.02,306.34 L423.90,306.33 L421.77,306.32 L419.65,306.31 L417.52,306.31 L415.40,306.30Z" fill="#9E0142" stroke="#000" stroke-width="0.8"/>
<path d="M415.40,306.30 L417.52,306.31 L419.65,306.31 L421.77,306.32 L423.90,306.33 L426.02,306.34 L428.15,306.34 L430.27,306.35 L432.40,306.36 L434.52,306.36 L436.65,306.37 L438.77,306.38 L440.90,306.38 L443.02,306.39 L445.15,306.40 L447.27,306.41 L449.40,306.41 L451.52,306.42 L453.65,306.43 L455.77,306.43 L457.90,306.44 L460.02,306.45 L462.15,306.45 L464.27,306.46 L466.40,306.47 L468.52,306.47 L470.65,306.48 L472.77,306.49 L474.90,306.49 L477.02,306.50 L479.14,306.51 L481.27,306.51 L483.39,306.52 L485.52,306.53 L487.64,306.53 L489.77,306.54 L491.89,306.55 L494.02,306.55 L496.14,306.56 L498.27,306.57 L500.39,306.57 L502.52,306.58 L504.64,306.59 L506.77,306.59 L508.89,306.60 L511.02,306.61 L513.14,306.61 L515.27,306.62 L517.39,306.62 L519.52,306.63 L521.64,306.64 L523.77,306.64 L525.89,306.65 L528.02,306.66 L530.14,306.66 L532.27,306.67 L534.39,306.67 L536.52,306.68 L538.64,306.69 L540.77,306.69 L542.89,306.70 L542.89,309.40 L540.77,309.40 L538.64,309.40 L536.52,309.40 L534.39,309.40 L532.27,309.40 L530.14,309.40 L528.02,309.40 L525.89,309.40 L523.77,309.40 L521.64,309.40 L519.52,309.40 L517.39,309.40 L515.27,309.40 L513.14,309.40 L511.02,309.40 L508.89,309.40 L506.77,309.40 L504.64,309.40 L502.52,309.40 L500.39,309.40 L498.27,309.40 L496.14,309.40 L494.02,309.40 L491.89,309.40 L489.77,309.40 L487.64,309.40 L485.52,309.40 L483.39,309.40 L481.27,309.40 L479.14,309.40 L477.02,309.40 L474.90,309.40 L472.77,309.40 L470.65,309.40 L468.52,309.40 L466.40,309.40 L464.27,309.40 L462.15,309.40 L460.02,309.40 L457.90,309.40 L455.77,309.40 L453.65,309.40 L451.52,309.40 L449.40,309.40 L447.27,309.40 L445.15,309.40 L443.02,309.40 L440.90,309.40 L438.77,309.40 L436.65,309.40 L434.52,309.40 L432.40,309.40 L430.27,309.40 L428.15,309.40 L426.02,309.40 L423.90,309.40 L421.77,309.40 L419.65,309.40 L417.52,309.40 L415.40,309.40Z" fill="#6A0021" stroke="#000" stroke-width="0.8"/>
<path d="M549.50,83.60 L551.62,83.60 L553.75,83.60 L555.87,83.60 L558.00,83.60 L560.12,83.60 L562.25,83.60 L564.37,83.60 L566.50,83.60 L568.62,83.60 L570.75,83.60 L572.87,83.60 L575.00,83.60 L577.12,83.60 L579.25,83.60 L581.37,83.60 L583.50,83.60 L585.62,83.60 L587.75,83.60 L589.87,83.60 L592.00,83.60 L594.12,83.60 L596.25,83.60 L598.37,83.60 L600.50,83.60 L602.62,83.60 L604.75,83.60 L606.87,83.60 L609.00,83.60 L611.12,83.60 L613.25,83.60 L615.37,83.60 L617.49,83.60 L619.62,83.60 L621.74,83.60 L623.87,83.60 L625.99,83.60 L628.12,83.60 L630.24,83.60 L632.37,83.60 L634.49,83.60 L636.62,83.60 L638.74,83.60 L640.87,83.60 L642.99,83.60 L645.12,83.60 L647.24,83.60 L649.37,83.60 L651.49,83.60 L653.62,83.60 L655.74,83.60 L657.87,83.60 L659.99,83.60 L662.12,83.60 L664.24,83.60 L666.37,83.60 L668.49,83.60 L670.62,83.60 L672.74,83.60 L674.87,83.60 L676.99,83.60 L676.99,151.10 L674.87,151.98 L672.74,152.86 L670.62,153.76 L668.49,154.66 L666.37,155.56 L664.24,156.47 L662.12,157.39 L659.99,158.31 L657.87,159.24 L655.74,160.17 L653.62,161.11 L651.49,162.06 L649.37,163.01 L647.24,163.96 L645.12,164.92 L642.99,165.89 L640.87,166.86 L638.74,167.83 L636.62,168.81 L634.49,169.80 L632.37,170.79 L630.24,171.78 L628.12,172.78 L625.99,173.78 L623.87,174.78 L621.74,175.79 L619.62,176.80 L617.49,177.82 L615.37,178.83 L613.25,179.85 L611.12,180.88 L609.00,181.90 L606.87,182.93 L604.75,183.96 L602.62,185.00 L600.50,186.03 L598.37,187.07 L596.25,188.11 L594.12,189.15 L592.00,190.19 L589.87,191.23 L587.75,192.27 L585.62,193.32 L583.50,194.36 L581.37,195.41 L579.25,196.45 L577.12,197.50 L575.00,198.54 L572.87,199.59 L570.75,200.63 L568.62,201.67 L566.50,202.71 L564.37,203.76 L562.25,204.80 L560.12,205.83 L558.00,206.87 L555.87,207.91 L553.75,208.94 L551.62,209.97 L549.50,211.00Z" fill="#FDAE1F" stroke="#000" stroke-width="0.8"/>
<path d="M549.50,211.00 L551.62,209.97 L553.75,208.94 L555.87,207.91 L558.00,206.87 L560.12,205.83 L562.25,204.80 L564.37,203.76 L566.50,202.71 L568.62,201.67 L570.75,200.63 L572.87,199.59 L575.00,198.54 L577.12,197.50 L579.25,196.45 L581.37,195.41 L583.50,194.36 L585.62,193.32 L587.75,192.27 L589.87,191.23 L592.00,190.19 L594.12,189.15 L596.25,188.11 L598.37,187.07 L600.50,186.03 L602.62,185.00 L604.75,183.96 L606.87,182.93 L609.00,181.90 L611.12,180.88 L613.25,179.85 L615.37,178.83 L617.49,177.82 L619.62,176.80 L621.74,175.79 L623.87,174.78 L625.99,173.78 L628.12,172.78 L630.24,171.78 L632.37,170.79 L634.49,169.80 L636.62,168.81 L638.74,167.83 L640.87,166.86 L642.99,165.89 L645.12,164.92 L647.24,163.96 L649.37,163.01 L651.49,162.06 L653.62,161.11 L655.74,160.17 L657.87,159.24 L659.99,158.31 L662.12,157.39 L664.24,156.47 L666.37,155.56 L668.49,154.66 L670.62,153.76 L672.74,152.86 L674.87,151.98 L676.99,151.10 L676.99,214.20 L674.87,215.18 L672.74,216.16 L670.62,217.14 L668.49,218.11 L666.37,219.08 L664.24,220.05 L662.12,221.01 L659.99,221.97 L657.87,222.92 L655.74,223.87 L653.62,224.82 L651.49,225.76 L649.37,226.70 L647.24,227.64 L645.12,228.57 L642.99,229.49 L640.87,230.41 L638.74,231.33 L636.62,232.24 L634.49,233.14 L632.37,234.04 L630.24,234.93 L628.12,235.82 L625.99,236.71 L623.87,237.58 L621.74,238.46 L619.62,239.32 L617.49,240.18 L615.37,241.04 L613.25,241.89 L611.12,242.73 L609.00,243.56 L606.87,244.39 L604.75,245.22 L602.62,246.04 L600.50,246.85 L598.37,247.65 L596.25,248.45 L594.12,249.24 L592.00,250.03 L589.87,250.80 L587.75,251.58 L585.62,252.34 L583.50,253.10 L581.37,253.85 L579.25,254.60 L577.12,255.33 L575.00,256.06 L572.87,256.79 L570.75,257.51 L568.62,258.22 L566.50,258.92 L564.37,259.62 L562.25,260.31 L560.12,260.99 L558.00,261.67 L555.87,262.33 L553.75,263.00 L551.62,263.65 L549.50,264.30Z" fill="#FDAE61" stroke="#000" stroke-width="0.8"/>
<path d="M549.50,264.30 L551.62,263.65 L553.75,263.00 L555.87,262.33 L558.00,261.67 L560.12,260.99 L562.25,260.31 L564.37,259.62 L566.50,258.92 L568.62,258.22 L570.75,257.51 L572.87,256.79 L575.00,256.06 L577.12,255.33 L579.25,254.60 L581.37,253.85 L583.50,253.10 L585.62,252.34 L587.75,251.58 L589.87,250.80 L592.00,250.03 L594.12,249.24 L596.25,248.45 L598.37,247.65 L600.50,246.85 L602.62,246.04 L604.75,245.22 L606.87,244.39 L609.00,243.56 L611.12,242.73 L613.25,241.89 L615.37,241.04 L617.49,240.18 L619.62,239.32 L621.74,238.46 L623.87,237.58 L625.99,236.71 L628.12,235.82 L630.24,234.93 L632.37,234.04 L634.49,233.14 L636.62,232.24 L638.74,231.33 L640.87,230.41 L642.99,229.49 L645.12,228.57 L647.24,227.64 L649.37,226.70 L651.49,225.76 L653.62,224.82 L655.74,223.87 L657.87,222.92 L659.99,221.97 L662.12,221.01 L664.24,220.05 L666.37,219.08 L668.49,218.11 L670.62,217.14 L672.74,216.16 L674.87,215.18 L676.99,214.20 L676.99,266.10 L674.87,266.72 L672.74,267.33 L670.62,267.94 L668.49,268.54 L666.37,269.13 L664.24,269.72 L662.12,270.30 L659.99,270.87 L657.87,271.44 L655.74,272.00 L653.62,272.55 L651.49,273.10 L649.37,273.64 L647.24,274.17 L645.12,274.70 L642.99,275.22 L640.87,275.73 L638.74,276.24 L636.62,276.74 L634.49,277.24 L632.37,277.72 L630.24,278.21 L628.12,278.68 L625.99,279.15 L623.87,279.62 L621.74,280.07 L619.62,280.53 L617.49,280.97 L615.37,281.41 L613.25,281.85 L611.12,282.27 L609.00,282.70 L606.87,283.11 L604.75,283.53 L602.62,283.93 L600.50,284.33 L598.37,284.73 L596.25,285.11 L594.12,285.50 L592.00,285.88 L589.87,286.25 L587.75,286.62 L585.62,286.98 L583.50,287.34 L581.37,287.69 L579.25,288.04 L577.12,288.38 L575.00,288.72 L572.87,289.05 L570.75,289.38 L568.62,289.70 L566.50,290.02 L564.37,290.33 L562.25,290.64 L560.12,290.94 L558.00,291.24 L555.87,291.54 L553.75,291.83 L551.62,292.12 L549.50,292.40Z" fill="#F46D43" stroke="#000" stroke-width="0.8"/>
<path d="M549.50,292.40 L551.62,292.12 L553.75,291.83 L555.87,291.54 L558.00,291.24 L560.12,290.94 L562.25,290.64 L564.37,290.33 L566.50,290.02 L568.62,289.70 L570.75,289.38 L572.87,289.05 L575.00,288.72 L577.12,288.38 L579.25,288.04 L581.37,287.69 L583.50,287.34 L585.62,286.98 L587.75,286.62 L589.87,286.25 L592.00,285.88 L594.12,285.50 L596.25,285.11 L598.37,284.73 L600.50,284.33 L602.62,283.93 L604.75,283.53 L606.87,283.11 L609.00,282.70 L611.12,282.27 L613.25,281.85 L615.37,281.41 L617.49,280.97 L619.62,280.53 L621.74,280.07 L623.87,279.62 L625.99,279.15 L628.12,278.68 L630.24,278.21 L632.37,277.72 L634.49,277.24 L636.62,276.74 L638.74,276.24 L640.87,275.73 L642.99,275.22 L645.12,274.70 L647.24,274.17 L649.37,273.64 L651.49,273.10 L653.62,272.55 L655.74,272.00 L657.87,271.44 L659.99,270.87 L662.12,270.30 L664.24,269.72 L666.37,269.13 L668.49,268.54 L670.62,267.94 L672.74,267.33 L674.87,266.72 L676.99,266.10 L676.99,293.40 L674.87,293.65 L672.74,293.90 L670.62,294.15 L668.49,294.39 L666.37,294.63 L664.24,294.86 L662.12,295.09 L659.99,295.32 L657.87,295.54 L655.74,295.77 L653.62,295.98 L651.49,296.20 L649.37,296.41 L647.24,296.62 L645.12,296.82 L642.99,297.02 L640.87,297.22 L638.74,297.42 L636.62,297.61 L634.49,297.80 L632.37,297.99 L630.24,298.17 L628.12,298.35 L625.99,298.53 L623.87,298.71 L621.74,298.88 L619.62,299.05 L617.49,299.22 L615.37,299.38 L613.25,299.55 L611.12,299.71 L609.00,299.86 L606.87,300.02 L604.75,300.17 L602.62,300.32 L600.50,300.47 L598.37,300.62 L596.25,300.76 L594.12,300.90 L592.00,301.04 L589.87,301.18 L587.75,301.31 L585.62,301.44 L583.50,301.57 L581.37,301.70 L579.25,301.83 L577.12,301.95 L575.00,302.08 L572.87,302.20 L570.75,302.31 L568.62,302.43 L566.50,302.55 L564.37,302.66 L562.25,302.77 L560.12,302.88 L558.00,302.99 L555.87,303.09 L553.75,303.20 L551.62,303.30 L549.50,303.40Z" fill="#FC5020" stroke="#000" stroke-width="0.8"/>
<path d="M549.50,303.40 L551.62,303.30 L553.75,303.20 L555.87,303.09 L558.00,302.99 L560.12,302.88 L562.25,302.77 L564.37,302.66 L566.50,302.55 L568.62,302.43 L570.75,302.31 L572.87,302.20 L575.00,302.08 L577.12,301.95 L579.25,301.83 L581.37,301.70 L583.50,301.57 L585.62,301.44 L587.75,301.31 L589.87,301.18 L592.00,301.04 L594.12,300.90 L596.25,300.76 L598.37,300.62 L600.50,300.47 L602.62,300.32 L604.75,300.17 L606.87,300.02 L609.00,299.86 L611.12,299.71 L613.25,299.55 L615.37,299.38 L617.49,299.22 L619.62,299.05 L621.74,298.88 L623.87,298.71 L625.99,298.53 L628.12,298.35 L630.24,298.17 L632.37,297.99 L634.49,297.80 L636.62,297.61 L638.74,297.42 L640.87,297.22 L642.99,297.02 L645.12,296.82 L647.24,296.62 L649.37,296.41 L651.49,296.20 L653.62,295.98 L655.74,295.77 L657.87,295.54 L659.99,295.32 L662.12,295.09 L664.24,294.86 L666.37,294.63 L668.49,294.39 L670.62,294.15 L672.74,293.90 L674.87,293.65 L676.99,293.40 L676.99,305.80 L674.87,305.85 L672.74,305.90 L670.62,305.94 L668.49,305.99 L666.37,306.03 L664.24,306.08 L662.12,306.12 L659.99,306.17 L657.87,306.21 L655.74,306.25 L653.62,306.30 L651.49,306.34 L649.37,306.38 L647.24,306.42 L645.12,306.46 L642.99,306.50 L640.87,306.54 L638.74,306.58 L636.62,306.61 L634.49,306.65 L632.37,306.69 L630.24,306.72 L628.12,306.76 L625.99,306.79 L623.87,306.83 L621.74,306.86 L619.62,306.90 L617.49,306.93 L615.37,306.97 L613.25,307.00 L611.12,307.03 L609.00,307.06 L606.87,307.09 L604.75,307.12 L602.62,307.15 L600.50,307.19 L598.37,307.21 L596.25,307.24 L594.12,307.27 L592.00,307.30 L589.87,307.33 L587.75,307.36 L585.62,307.39 L583.50,307.41 L581.37,307.44 L579.25,307.47 L577.12,307.49 L575.00,307.52 L572.87,307.54 L570.75,307.57 L568.62,307.59 L566.50,307.62 L564.37,307.64 L562.25,307.66 L560.12,307.69 L558.00,307.71 L555.87,307.73 L553.75,307.76 L551.62,307.78 L549.50,307.80Z" fill="#D6404F" stroke="#000" stroke-width="0.8"/>
<path d="M549.50,307.80 L551.62,307.78 L553.75,307.76 L555.87,307.73 L558.00,307.71 L560.12,307.69 L562.25,307.66 L564.37,307.64 L566.50,307.62 L568.62,307.59 L570.75,307.57 L572.87,307.54 L575.00,307.52 L577.12,307.49 L579.25,307.47 L581.37,307.44 L583.50,307.41 L585.62,307.39 L587.75,307.36 L589.87,307.33 L592.00,307.30 L594.12,307.27 L596.25,307.24 L598.37,307.21 L600.50,307.19 L602.62,307.15 L604.75,307.12 L606.87,307.09 L609.00,307.06 L611.12,307.03 L613.25,307.00 L615.37,306.97 L617.49,306.93 L619.62,306.90 L621.74,306.86 L623.87,306.83 L625.99,306.79 L628.12,306.76 L630.24,306.72 L632.37,306.69 L634.49,306.65 L636.62,306.61 L638.74,306.58 L640.87,306.54 L642.99,306.50 L645.12,306.46 L647.24,306.42 L649.37,306.38 L651.49,306.34 L653.62,306.30 L655.74,306.25 L657.87,306.21 L659.99,306.17 L662.12,306.12 L664.24,306.08 L666.37,306.03 L668.49,305.99 L670.62,305.94 L672.74,305.90 L674.87,305.85 L676.99,305.80 L676.99,308.30 L674.87,308.31 L672.74,308.32 L670.62,308.33 L668.49,308.34 L666.37,308.35 L664.24,308.36 L662.12,308.38 L659.99,308.39 L657.87,308.40 L655.74,308.41 L653.62,308.42 L651.49,308.43 L649.37,308.44 L647.24,308.44 L645.12,308.45 L642.99,308.46 L640.87,308.47 L638.74,308.48 L636.62,308.49 L634.49,308.50 L632.37,308.51 L630.24,308.52 L628.12,308.53 L625.99,308.54 L623.87,308.55 L621.74,308.55 L619.62,308.56 L617.49,308.57 L615.37,308.58 L613.25,308.59 L611.12,308.60 L609.00,308.60 L606.87,308.61 L604.75,308.62 L602.62,308.63 L600.50,308.64 L598.37,308.64 L596.25,308.65 L594.12,308.66 L592.00,308.67 L589.87,308.67 L587.75,308.68 L585.62,308.69 L583.50,308.69 L581.37,308.70 L579.25,308.71 L577.12,308.72 L575.00,308.72 L572.87,308.73 L570.75,308.74 L568.62,308.74 L566.50,308.75 L564.37,308.76 L562.25,308.76 L560.12,308.77 L558.00,308.78 L555.87,308.78 L553.75,308.79 L551.62,308.79 L549.50,308.80Z" fill="#9E0142" stroke="#000" stroke-width="0.8"/>
<path d="M549.50,308.80 L551.62,308.79 L553.75,308.79 L555.87,308.78 L558.00,308.78 L560.12,308.77 L562.25,308.76 L564.37,308.76 L566.50,308.75 L568.62,308.74 L570.75,308.74 L572.87,308.73 L575.00,308.72 L577.12,308.72 L579.25,308.71 L581.37,308.70 L583.50,308.69 L585.62,308.69 L587.75,308.68 L589.87,308.67 L592.00,308.67 L594.12,308.66 L596.25,308.65 L598.37,308.64 L600.50,308.64 L602.62,308.63 L604.75,308.62 L606.87,308.61 L609.00,308.60 L611.12,308.60 L613.25,308.59 L615.37,308.58 L617.49,308.57 L619.62,308.56 L621.74,308.55 L623.87,308.55 L625.99,308.54 L628.12,308.53 L630.24,308.52 L632.37,308.51 L634.49,308.50 L636.62,308.49 L638.74,308.48 L640.87,308.47 L642.99,308.46 L645.12,308.45 L647.24,308.44 L649.37,308.44 L651.49,308.43 L653.62,308.42 L655.74,308.41 L657.87,308.40 L659.99,308.39 L662.12,308.38 L664.24,308.36 L666.37,308.35 L668.49,308.34 L670.62,308.33 L672.74,308.32 L674.87,308.31 L676.99,308.30 L676.99,309.40 L674.87,309.40 L672.74,309.40 L670.62,309.40 L668.49,309.40 L666.37,309.40 L664.24,309.40 L662.12,309.40 L659.99,309.40 L657.87,309.40 L655.74,309.40 L653.62,309.40 L651.49,309.40 L649.37,309.40 L647.24,309.40 L645.12,309.40 L642.99,309.40 L640.87,309.40 L638.74,309.40 L636.62,309.40 L634.49,309.40 L632.37,309.40 L630.24,309.40 L628.12,309.40 L625.99,309.40 L623.87,309.40 L621.74,309.40 L619.62,309.40 L617.49,309.40 L615.37,309.40 L613.25,309.40 L611.12,309.40 L609.00,309.40 L606.87,309.40 L604.75,309.40 L602.62,309.40 L600.50,309.40 L598.37,309.40 L596.25,309.40 L594.12,309.40 L592.00,309.40 L589.87,309.40 L587.75,309.40 L585.62,309.40 L583.50,309.40 L581.37,309.40 L579.25,309.40 L577.12,309.40 L575.00,309.40 L572.87,309.40 L570.75,309.40 L568.62,309.40 L566.50,309.40 L564.37,309.40 L562.25,309.40 L560.12,309.40 L558.00,309.40 L555.87,309.40 L553.75,309.40 L551.62,309.40 L549.50,309.40Z" fill="#6A0021" stroke="#000" stroke-width="0.8"/>
<rect x="412.3" y="72.6" width="134.3" height="236.79999999999998" fill="none" stroke="#5a5a5a" stroke-width="1"/>
<line x1="412.3" y1="83.6" x2="546.6" y2="83.6" stroke="#808080" stroke-width="1"/>
<rect x="546.6" y="72.6" width="133.79999999999995" height="236.79999999999998" fill="none" stroke="#5a5a5a" stroke-width="1"/>
<line x1="546.6" y1="83.6" x2="680.4" y2="83.6" stroke="#808080" stroke-width="1"/>
<line x1="407.8" y1="309.40" x2="412.3" y2="309.40" stroke="#5a5a5a" stroke-width="1"/>
<line x1="680.4" y1="309.40" x2="684.9" y2="309.40" stroke="#5a5a5a" stroke-width="1"/>
<line x1="407.8" y1="264.24" x2="412.3" y2="264.24" stroke="#5a5a5a" stroke-width="1"/>
<line x1="680.4" y1="264.24" x2="684.9" y2="264.24" stroke="#5a5a5a" stroke-width="1"/>
<line x1="407.8" y1="219.08" x2="412.3" y2="219.08" stroke="#5a5a5a" stroke-width="1"/>
<line x1="680.4" y1="219.08" x2="684.9" y2="219.08" stroke="#5a5a5a" stroke-width="1"/>
<line x1="407.8" y1="173.92" x2="412.3" y2="173.92" stroke="#5a5a5a" stroke-width="1"/>
<line x1="680.4" y1="173.92" x2="684.9" y2="173.92" stroke="#5a5a5a" stroke-width="1"/>
<line x1="407.8" y1="128.76" x2="412.3" y2="128.76" stroke="#5a5a5a" stroke-width="1"/>
<line x1="680.4" y1="128.76" x2="684.9" y2="128.76" stroke="#5a5a5a" stroke-width="1"/>
<line x1="407.8" y1="83.60" x2="412.3" y2="83.60" stroke="#5a5a5a" stroke-width="1"/>
<line x1="680.4" y1="83.60" x2="684.9" y2="83.60" stroke="#5a5a5a" stroke-width="1"/>
<line x1="415.40" y1="68.3" x2="415.40" y2="72.6" stroke="#5a5a5a" stroke-width="1"/>
<line x1="415.40" y1="309.4" x2="415.40" y2="313.59999999999997" stroke="#5a5a5a" stroke-width="1"/>
<line x1="434.40" y1="68.3" x2="434.40" y2="72.6" stroke="#5a5a5a" stroke-width="1"/>
<line x1="434.40" y1="309.4" x2="434.40" y2="313.59999999999997" stroke="#5a5a5a" stroke-width="1"/>
<line x1="453.40" y1="68.3" x2="453.40" y2="72.6" stroke="#5a5a5a" stroke-width="1"/>
<line x1="453.40" y1="309.4" x2="453.40" y2="313.59999999999997" stroke="#5a5a5a" stroke-width="1"/>
<line x1="472.40" y1="68.3" x2="472.40" y2="72.6" stroke="#5a5a5a" stroke-width="1"/>
<line x1="472.40" y1="309.4" x2="472.40" y2="313.59999999999997" stroke="#5a5a5a" stroke-width="1"/>
<line x1="491.40" y1="68.3" x2="491.40" y2="72.6" stroke="#5a5a5a" stroke-width="1"/>
<line x1="491.40" y1="309.4" x2="491.40" y2="313.59999999999997" stroke="#5a5a5a" stroke-width="1"/>
<line x1="510.40" y1="68.3" x2="510.40" y2="72.6" stroke="#5a5a5a" stroke-width="1"/>
<line x1="510.40" y1="309.4" x2="510.40" y2="313.59999999999997" stroke="#5a5a5a" stroke-width="1"/>
<line x1="529.40" y1="68.3" x2="529.40" y2="72.6" stroke="#5a5a5a" stroke-width="1"/>
<line x1="529.40" y1="309.4" x2="529.40" y2="313.59999999999997" stroke="#5a5a5a" stroke-width="1"/>
<line x1="549.50" y1="68.3" x2="549.50" y2="72.6" stroke="#5a5a5a" stroke-width="1"/>
<line x1="549.50" y1="309.4" x2="549.50" y2="313.59999999999997" stroke="#5a5a5a" stroke-width="1"/>
<line x1="568.50" y1="68.3" x2="568.50" y2="72.6" stroke="#5a5a5a" stroke-width="1"/>
<line x1="568.50" y1="309.4" x2="568.50" y2="313.59999999999997" stroke="#5a5a5a" stroke-width="1"/>
<line x1="587.50" y1="68.3" x2="587.50" y2="72.6" stroke="#5a5a5a" stroke-width="1"/>
<line x1="587.50" y1="309.4" x2="587.50" y2="313.59999999999997" stroke="#5a5a5a" stroke-width="1"/>
<line x1="606.50" y1="68.3" x2="606.50" y2="72.6" stroke="#5a5a5a" stroke-width="1"/>
<line x1="606.50" y1="309.4" x2="606.50" y2="313.59999999999997" stroke="#5a5a5a" stroke-width="1"/>
<line x1="625.50" y1="68.3" x2="625.50" y2="72.6" stroke="#5a5a5a" stroke-width="1"/>
<line x1="625.50" y1="309.4" x2="625.50" y2="313.59999999999997" stroke="#5a5a5a" stroke-width="1"/>
<line x1="644.50" y1="68.3" x2="644.50" y2="72.6" stroke="#5a5a5a" stroke-width="1"/>
<line x1="644.50" y1="309.4" x2="644.50" y2="313.59999999999997" stroke="#5a5a5a" stroke-width="1"/>
<line x1="663.50" y1="68.3" x2="663.50" y2="72.6" stroke="#5a5a5a" stroke-width="1"/>
<line x1="663.50" y1="309.4" x2="663.50" y2="313.59999999999997" stroke="#5a5a5a" stroke-width="1"/>
<rect x="182.4" y="1.30" width="25.0" height="6.87" fill="#FDAE1F" stroke="#222" stroke-width="0.8"/>
<text x="170.8" y="7.05" font-size="7.5" text-anchor="middle" style="stroke:none">7</text>
<rect x="182.4" y="8.17" width="25.0" height="6.87" fill="#FDAE61" stroke="#222" stroke-width="0.8"/>
<text x="170.8" y="14.00" font-size="7.5" text-anchor="middle" style="stroke:none">6</text>
<rect x="182.4" y="15.04" width="25.0" height="6.87" fill="#F46D43" stroke="#222" stroke-width="0.8"/>
<text x="170.8" y="20.95" font-size="7.5" text-anchor="middle" style="stroke:none">5</text>
<rect x="182.4" y="21.91" width="25.0" height="6.87" fill="#D6404F" stroke="#222" stroke-width="0.8"/>
<text x="170.8" y="27.90" font-size="7.5" text-anchor="middle" style="stroke:none">4</text>
<rect x="182.4" y="28.78" width="25.0" height="6.87" fill="#9E0142" stroke="#222" stroke-width="0.8"/>
<text x="170.8" y="34.85" font-size="7.5" text-anchor="middle" style="stroke:none">3</text>
<rect x="182.4" y="35.65" width="25.0" height="6.87" fill="#6A0021" stroke="#222" stroke-width="0.8"/>
<text x="170.8" y="41.80" font-size="7.5" text-anchor="middle" style="stroke:none">2</text>
<rect x="540.5" y="0.40" width="25.2" height="6.90" fill="#FDAE1F" stroke="#222" stroke-width="0.8"/>
<text x="528.7" y="6.40" font-size="7.5" text-anchor="middle" style="stroke:none">7</text>
<rect x="540.5" y="7.30" width="25.2" height="6.90" fill="#FDAE61" stroke="#222" stroke-width="0.8"/>
<text x="528.7" y="13.32" font-size="7.5" text-anchor="middle" style="stroke:none">6</text>
<rect x="540.5" y="14.20" width="25.2" height="6.90" fill="#F46D43" stroke="#222" stroke-width="0.8"/>
<text x="528.7" y="20.24" font-size="7.5" text-anchor="middle" style="stroke:none">5</text>
<rect x="540.5" y="21.10" width="25.2" height="6.90" fill="#FC5020" stroke="#222" stroke-width="0.8"/>
<text x="528.7" y="27.16" font-size="7.5" text-anchor="middle" style="stroke:none">4</text>
<rect x="540.5" y="28.00" width="25.2" height="6.90" fill="#D6404F" stroke="#222" stroke-width="0.8"/>
<text x="528.7" y="34.08" font-size="7.5" text-anchor="middle" style="stroke:none">3</text>
<rect x="540.5" y="34.90" width="25.2" height="6.90" fill="#9E0142" stroke="#222" stroke-width="0.8"/>
<text x="528.7" y="41.00" font-size="7.5" text-anchor="middle" style="stroke:none">2</text>
<rect x="540.5" y="41.80" width="25.2" height="6.90" fill="#6A0021" stroke="#222" stroke-width="0.8"/>
<text x="528.7" y="47.92" font-size="7.5" text-anchor="middle" style="stroke:none">1</text>
<text x="27.50" y="319.90" font-size="9.6" text-anchor="end" >0.0</text>
<text x="27.50" y="272.00" font-size="9.6" text-anchor="end" >0.2</text>
<text x="27.50" y="224.10" font-size="9.6" text-anchor="end" >0.4</text>
<text x="27.50" y="176.20" font-size="9.6" text-anchor="end" >0.6</text>
<text x="27.50" y="128.30" font-size="9.6" text-anchor="end" >0.8</text>
<text x="27.50" y="80.40" font-size="9.6" text-anchor="end" >1.0</text>
<text x="112.40" y="75.30" font-size="9.6" text-anchor="middle" >D</text>
<text x="263.95" y="75.30" font-size="9.6" text-anchor="middle" >S</text>
<text x="191.70" y="58.80" font-size="9.6" text-anchor="middle" >20</text>
<text x="40.40" y="332.40" font-size="9.6" text-anchor="middle" >20</text>
<text x="213.22" y="58.80" font-size="9.6" text-anchor="middle" >30</text>
<text x="61.92" y="332.40" font-size="9.6" text-anchor="middle" >30</text>
<text x="234.74" y="58.80" font-size="9.6" text-anchor="middle" >40</text>
<text x="83.44" y="332.40" font-size="9.6" text-anchor="middle" >40</text>
<text x="256.26" y="58.80" font-size="9.6" text-anchor="middle" >50</text>
<text x="104.96" y="332.40" font-size="9.6" text-anchor="middle" >50</text>
<text x="277.78" y="58.80" font-size="9.6" text-anchor="middle" >60</text>
<text x="126.48" y="332.40" font-size="9.6" text-anchor="middle" >60</text>
<text x="299.30" y="58.80" font-size="9.6" text-anchor="middle" >70</text>
<text x="148.00" y="332.40" font-size="9.6" text-anchor="middle" >70</text>
<text x="320.82" y="58.80" font-size="9.6" text-anchor="middle" >80</text>
<text x="169.52" y="332.40" font-size="9.6" text-anchor="middle" >80</text>
<text x="403.30" y="312.80" font-size="9.6" text-anchor="end" >0.0</text>
<text x="403.30" y="267.64" font-size="9.6" text-anchor="end" >0.2</text>
<text x="403.30" y="222.48" font-size="9.6" text-anchor="end" >0.4</text>
<text x="403.30" y="177.32" font-size="9.6" text-anchor="end" >0.6</text>
<text x="403.30" y="132.16" font-size="9.6" text-anchor="end" >0.8</text>
<text x="403.30" y="87.00" font-size="9.6" text-anchor="end" >1.0</text>
<text x="479.45" y="81.90" font-size="9.6" text-anchor="middle" >D</text>
<text x="613.50" y="81.90" font-size="9.6" text-anchor="middle" >S</text>
<text x="549.50" y="65.00" font-size="9.6" text-anchor="middle" >20</text>
<text x="415.40" y="325.00" font-size="9.6" text-anchor="middle" >20</text>
<text x="568.50" y="65.00" font-size="9.6" text-anchor="middle" >30</text>
<text x="434.40" y="325.00" font-size="9.6" text-anchor="middle" >30</text>
<text x="587.50" y="65.00" font-size="9.6" text-anchor="middle" >40</text>
<text x="453.40" y="325.00" font-size="9.6" text-anchor="middle" >40</text>
<text x="606.50" y="65.00" font-size="9.6" text-anchor="middle" >50</text>
<text x="472.40" y="325.00" font-size="9.6" text-anchor="middle" >50</text>
<text x="625.50" y="65.00" font-size="9.6" text-anchor="middle" >60</text>
<text x="491.40" y="325.00" font-size="9.6" text-anchor="middle" >60</text>
<text x="644.50" y="65.00" font-size="9.6" text-anchor="middle" >70</text>
<text x="510.40" y="325.00" font-size="9.6" text-anchor="middle" >70</text>
<text x="663.50" y="65.00" font-size="9.6" text-anchor="middle" >80</text>
<text x="529.40" y="325.00" font-size="9.6" text-anchor="middle" >80</text>
<text x="189.00" y="346.60" font-size="9.9" text-anchor="middle" >WPM</text>
<text x="548.30" y="342.60" font-size="9.7" text-anchor="middle" >WPM</text>
<text transform="translate(7.4,186.6) rotate(-90)" font-size="9.8" text-anchor="middle">Subjective fluency (probability)</text>
<text transform="translate(384.3,182.7) rotate(-90)" font-size="9.8" text-anchor="middle">Subjective fluency (probability)</text>
<text x="5.5" y="15.3" font-size="17.6" font-weight="bold">A</text>
<text x="376.9" y="13.1" font-size="17.4" font-weight="bold">B</text>
</svg>
</body></html>
